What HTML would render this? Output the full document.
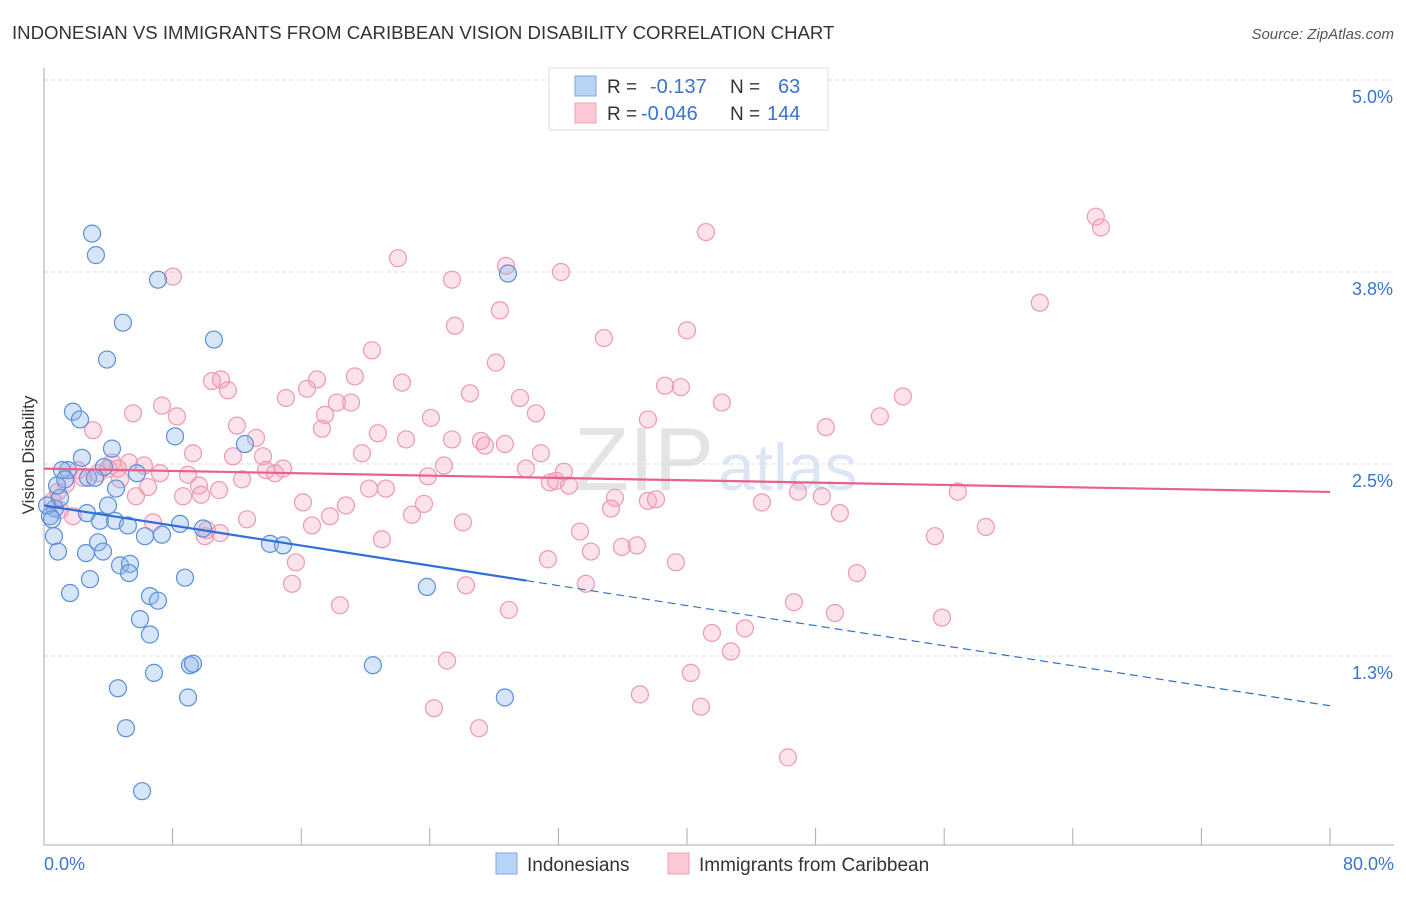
<!DOCTYPE html>
<html><head><meta charset="utf-8"><style>
body{margin:0;background:#fff;font-family:"Liberation Sans",sans-serif;}
svg text{font-family:"Liberation Sans",sans-serif;}
</style></head><body>
<svg id="chart" width="1406" height="892" xmlns="http://www.w3.org/2000/svg">
<text x="12" y="39" font-size="18.6" fill="#333">INDONESIAN VS IMMIGRANTS FROM CARIBBEAN VISION DISABILITY CORRELATION CHART</text>
<text x="1394" y="39" font-size="15" fill="#555" text-anchor="end" font-style="italic">Source: ZipAtlas.com</text>
<text x="714" y="490" font-size="90" fill="#e4e4e4" font-family="Liberation Serif" text-anchor="end">ZIP</text>
<text x="718" y="490" font-size="66" fill="#dce6f4">atlas</text>
<g id="grid"></g><g id="axes"></g><g id="pts"></g><g id="lines"></g>
<text transform="translate(34,455) rotate(-90)" font-size="17" fill="#333" text-anchor="middle">Vision Disability</text>
<g>
<rect x="549" y="68" width="279" height="62" fill="#fff" stroke="#ddd"/>
<rect x="575" y="76" width="21" height="20" fill="#b8d3f5" stroke="#7fa7e0"/>
<rect x="575" y="103" width="21" height="20" fill="#fcc8d6" stroke="#eea0b6"/>
<text x="607" y="93" font-size="19" fill="#333">R =</text><text x="650" y="93" font-size="20" fill="#3a74d0">-0.137</text>
<text x="730" y="93" font-size="19" fill="#333">N =</text><text x="778" y="93" font-size="20" fill="#3a74d0">63</text>
<text x="607" y="120" font-size="19" fill="#333">R =</text><text x="641" y="120" font-size="20" fill="#3a74d0">-0.046</text>
<text x="730" y="120" font-size="19" fill="#333">N =</text><text x="767" y="120" font-size="20" fill="#3a74d0">144</text>
</g>
<g>
<rect x="496" y="853" width="21" height="21" fill="#b8d3f5" stroke="#7fa7e0"/>
<text x="527" y="871" font-size="19" fill="#333">Indonesians</text>
<rect x="668" y="853" width="21" height="21" fill="#fcc8d6" stroke="#eea0b6"/>
<text x="699" y="871" font-size="19" fill="#333">Immigrants from Caribbean</text>
</g>
</svg>
<script>
const xTicksLabels=["0.0%","80.0%"];
const yTickValues=[5.0,3.75,2.5,1.25];
const yTickLabels=["5.0%","3.8%","2.5%","1.3%"];
const blueX=[2.99,3.23,7.09,4.91,3.92,10.57,28.86,1.80,2.24,8.15,4.23,12.50,1.49,2.36,5.78,2.74,3.73,4.48,3.98,2.67,0.68,0.37,1.00,0.62,0.87,1.62,2.61,3.36,3.48,4.42,3.67,5.22,6.28,7.34,8.46,9.89,4.73,5.35,5.29,2.86,8.77,14.06,14.87,6.59,7.09,5.97,6.59,23.82,9.08,9.27,6.84,20.46,4.60,8.96,28.67,5.10,6.10,1.12,0.19,0.50,1.31,3.17,0.81];
const blueY=[4.00,3.86,3.70,3.42,3.18,3.31,3.74,2.84,2.79,2.68,2.60,2.63,2.46,2.54,2.44,2.41,2.48,2.34,2.23,2.18,2.21,2.16,2.28,2.03,1.93,1.66,1.92,1.99,2.13,2.13,1.93,2.10,2.03,2.04,2.11,2.08,1.84,1.85,1.79,1.75,1.76,1.98,1.97,1.64,1.61,1.49,1.39,1.70,1.19,1.20,1.14,1.19,1.04,0.98,0.98,0.78,0.37,2.46,2.23,2.14,2.40,2.41,2.36];
const pinkX=[8.02,22.02,25.38,28.74,32.16,41.18,65.43,65.75,61.95,25.56,28.36,20.40,34.83,40.00,28.11,10.45,11.01,11.44,16.98,16.36,19.34,22.27,38.63,39.62,26.50,15.05,18.22,19.10,29.61,42.17,53.43,7.34,5.54,8.27,17.48,24.07,30.60,37.57,52.00,48.64,3.05,12.00,17.29,20.77,22.52,25.38,13.19,9.27,11.76,13.62,27.18,27.43,28.67,30.91,19.78,32.34,4.23,5.29,6.22,3.98,7.22,8.96,12.32,13.81,14.87,14.37,24.88,29.98,23.88,31.85,32.66,31.47,4.73,6.47,5.72,9.64,8.65,9.77,10.89,20.22,21.27,23.64,22.89,35.52,35.27,37.57,38.07,44.66,46.90,48.39,49.51,56.85,16.11,18.78,17.79,1.80,0.87,0.56,2.11,1.37,6.78,12.63,16.67,10.14,10.01,26.06,33.34,21.02,34.02,35.95,36.88,31.35,39.31,58.59,55.42,15.67,15.43,26.25,33.71,50.57,18.41,28.92,46.65,49.20,55.86,41.55,43.60,42.73,25.07,40.24,37.07,24.26,40.87,27.06,46.28,2.43,1.00,3.36,4.60,10.95];
const pinkY=[3.72,3.84,3.70,3.79,3.75,4.01,4.11,4.04,3.55,3.40,3.50,3.24,3.32,3.37,3.16,3.04,3.05,2.98,3.05,2.99,3.07,3.03,3.01,3.00,2.96,2.93,2.90,2.90,2.93,2.90,2.94,2.88,2.83,2.81,2.82,2.80,2.83,2.79,2.81,2.74,2.72,2.75,2.73,2.70,2.66,2.66,2.67,2.57,2.55,2.55,2.65,2.62,2.63,2.57,2.57,2.45,2.51,2.51,2.49,2.47,2.44,2.43,2.40,2.46,2.47,2.44,2.49,2.47,2.42,2.39,2.36,2.38,2.40,2.35,2.29,2.36,2.29,2.30,2.33,2.34,2.34,2.24,2.17,2.28,2.21,2.26,2.27,2.25,2.32,2.29,2.18,2.32,2.25,2.23,2.16,2.16,2.32,2.26,2.46,2.37,2.12,2.14,2.10,2.07,2.03,2.12,2.06,2.01,1.93,1.96,1.97,1.88,1.86,2.09,2.03,1.86,1.72,1.71,1.72,1.79,1.58,1.55,1.60,1.53,1.50,1.40,1.43,1.28,1.22,1.14,1.00,0.91,0.92,0.78,0.59,2.41,2.20,2.44,2.47,2.05];
const blueTrend=[2.23,-0.0163]; // intercept, slope per %
const pinkTrend=[2.47,-0.0019];
const blueSolidEnd=30;

const X=v=>44+v*16.075, Y=v=>80+(5-v)*153.6;
const NS="http://www.w3.org/2000/svg";
function mk(parent,tag,attrs){const e=document.createElementNS(NS,tag);for(const k in attrs)e.setAttribute(k,attrs[k]);document.getElementById(parent).appendChild(e);return e;}
yTickValues.forEach((v,i)=>{
 const l=mk('grid','line',{x1:44,x2:1394,y1:Y(v),y2:Y(v),stroke:'#ddd','stroke-dasharray':'4,3'});
 
 
 const t=mk('grid','text',{x:1393,y:Y(v)+23,'font-size':18,fill:'#3a74d0','text-anchor':'end'});t.textContent=yTickLabels[i];
 
 
});
const ax=mk('axes','line',{x1:44,x2:44,y1:68,y2:845,stroke:'#aaa'});


const bx=mk('axes','line',{x1:44,x2:1394,y1:845,y2:845,stroke:'#aaa'});


for(let v=0;v<=80;v+=8){const t=mk('axes','line',{x1:X(v),x2:X(v),y1:828,y2:845,stroke:'#aaa'});
 
 }
[[0,'start',44],[80,'end',1394]].forEach((d,i)=>{const t=mk('axes','text',{x:d[2],y:870,'font-size':18,fill:'#3a74d0','text-anchor':d[1]});t.textContent=xTicksLabels[i];
 
 });
pinkX.forEach((x,i)=>{const c=mk('pts','circle',{cx:X(x),cy:Y(pinkY[i]),r:8.5,fill:'rgba(244,160,185,0.3)',stroke:'#ec9ab3','stroke-width':1.2});
 
 });
blueX.forEach((x,i)=>{const c=mk('pts','circle',{cx:X(x),cy:Y(blueY[i]),r:8.5,fill:'rgba(140,180,235,0.35)',stroke:'#5b8fd9','stroke-width':1.2});
 
 });
const bt=v=>blueTrend[0]+blueTrend[1]*v, pt=v=>pinkTrend[0]+pinkTrend[1]*v;
const l1=mk('lines','line',{x1:X(0),y1:Y(pt(0)),x2:X(80),y2:Y(pt(80)),stroke:'#e8608e','stroke-width':2.2});


const l2=mk('lines','line',{x1:X(0),y1:Y(bt(0)),x2:X(blueSolidEnd),y2:Y(bt(blueSolidEnd)),stroke:'#2f6fd6','stroke-width':2.2});


const l3=mk('lines','line',{x1:X(blueSolidEnd),y1:Y(bt(blueSolidEnd)),x2:X(80),y2:Y(bt(80)),stroke:'#2f6fd6','stroke-width':1.2,'stroke-dasharray':'8,5'});


</script>
</body></html>
